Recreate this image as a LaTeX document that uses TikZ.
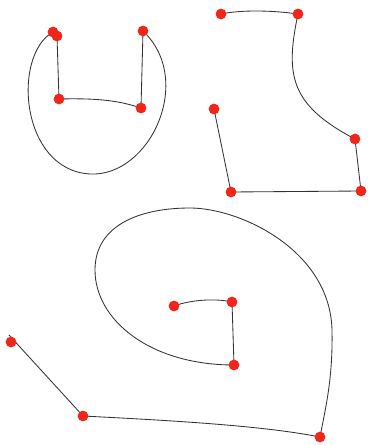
\documentclass[tikz,border=0pt]{standalone}
\usepackage{xcolor}
\usepackage{tikz}

\begin{document}
\begin{tikzpicture}[x=0.025cm, y=-0.025cm]
  \definecolor{dotred}{HTML}{F0261A}
  \definecolor{curvegray}{HTML}{333333}
  \tikzset{
    curve/.style={draw=curvegray, line width=0.6pt},
    ctrl/.style={circle, fill=dotred, inner sep=0pt, minimum size=0.27cm}
  }

  \useasboundingbox (0,0) rectangle (370,446);

  \coordinate (u1) at (53,32);
  \coordinate (u2) at (57,36);
  \coordinate (u3) at (59,99);
  \coordinate (u4) at (141,108);
  \coordinate (u5) at (143,31);

  \coordinate (b1) at (221,14);
  \coordinate (b2) at (298,14);
  \coordinate (b3) at (355,139);
  \coordinate (b4) at (361,191);
  \coordinate (b5) at (231,192);
  \coordinate (b6) at (214,109);

  \coordinate (s0) at (9,335);
  \coordinate (s1) at (174,306);
  \coordinate (s2) at (232,302);
  \coordinate (s3) at (234,365);
  \coordinate (s4) at (83,416);
  \coordinate (s5) at (320,437);
  \coordinate (s6) at (11,342);

  \draw[curve] (u1) .. controls (12,55) and (20,170) .. (90,174)
    .. controls (150,177) and (195,80) .. (u5);
  \draw[curve] (u2) -- (u3);
  \draw[curve] (u3) .. controls (100,98) and (120,101) .. (u4);
  \draw[curve] (u4) -- (u5);

  \draw[curve] (b1) .. controls (240,10) and (270,10) .. (b2);
  \draw[curve] (b2) .. controls (285,75) and (290,105) .. (b3);
  \draw[curve] (b3) -- (b4);
  \draw[curve] (b4) -- (b5);
  \draw[curve] (b5) -- (b6);

  \draw[curve] (s1) .. controls (190,300) and (215,298) .. (s2);
  \draw[curve] (s2) -- (s3);
  \draw[curve] (s3) .. controls (150,365) and (95,320) .. (95,270)
    .. controls (95,225) and (140,208) .. (190,208)
    .. controls (240,208) and (330,250) .. (332,330)
    .. controls (333,380) and (325,410) .. (s5);
  \draw[curve] (s0) -- (s4);
  \draw[curve] (s4) .. controls (160,420) and (260,425) .. (s5);

  \foreach \p in {u1,u2,u3,u4,u5,b1,b2,b3,b4,b5,b6,s1,s2,s3,s4,s5,s6}
    \node[ctrl] at (\p) {};
\end{tikzpicture}
\end{document}
